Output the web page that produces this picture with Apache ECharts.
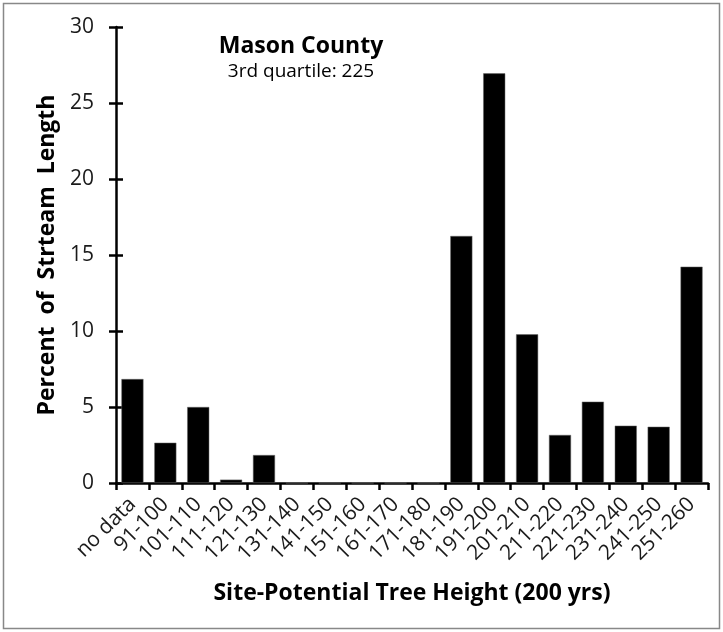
<!DOCTYPE html>
<html><head><meta charset="utf-8">
<script src="https://cdn.jsdelivr.net/npm/echarts@6/dist/echarts.min.js"></script>
<style>html,body{margin:0;padding:0;background:#fff}#c{width:723px;height:632px}</style>
</head><body><div id="c"></div>
<script>
const categories = ["no data","91-100","101-110","111-120","121-130","131-140","141-150","151-160","161-170","171-180","181-190","191-200","201-210","211-220","221-230","231-240","241-250","251-260"];
const values = [6.84,2.65,5.0,0.22,1.84,0,0,0,0,0,16.25,26.95,9.78,3.16,5.35,3.77,3.70,14.23];
const yTicks = [0,5,10,15,20,25,30];
const titleText = "Mason County";
const subtitleText = "3rd quartile: 225";
const xName = "Site-Potential Tree Height (200 yrs)";
const yName = "Percent  of  Strteam  Length";

const FONT = "'Open Sans', sans-serif";
const chart = echarts.init(document.getElementById('c'));
const grid = {left:116, top:27, right:15, bottom:149};
chart.setOption({
  animation:false,
  backgroundColor:'#fff',
  title:{
    text:titleText, subtext:subtitleText, left:296, top:30, textAlign:'center', itemGap:4,
    textStyle:{fontFamily:FONT, fontSize:23, fontWeight:'bold', color:'#000'},
    subtextStyle:{fontFamily:FONT, fontSize:19, color:'#000'}
  },
  graphic:[{type:'rect', shape:{x:3.5,y:3.5,width:716,height:625}, style:{fill:'none', stroke:'#888', lineWidth:1.5}, silent:true}],
  grid:grid,
  xAxis:{
    type:'category', data:categories,
    axisLine:{lineStyle:{color:'#000', width:2.5}},
    axisTick:{show:true, length:7, lineStyle:{color:'#000', width:2.5}, alignWithLabel:false},
    axisLabel:{rotate:45, interval:0, margin:18, fontFamily:FONT, fontSize:21, color:'#1a1a1a'},
    name:xName, nameLocation:'middle', nameGap:99,
    nameTextStyle:{fontFamily:FONT, fontSize:23, fontWeight:'bold', color:'#000'}
  },
  yAxis:[{
    type:'value', min:0, max:30, interval:5,
    axisLine:{show:true, lineStyle:{color:'#000', width:2.5}},
    axisTick:{show:true, length:7, lineStyle:{color:'#000', width:2.5}},
    splitLine:{show:false},
    axisLabel:{margin:22, fontFamily:FONT, fontSize:21, color:'#1a1a1a',
      formatter:v=>yTicks.includes(v)?String(v):''},
    name:yName, nameLocation:'middle', nameGap:51,
    nameTextStyle:{fontFamily:FONT, fontSize:23, fontWeight:'bold', color:'#000'}
  },{
    type:'value', min:0, max:30, interval:5, position:'left',
    axisLine:{show:false},
    axisTick:{show:true, inside:true, length:7, lineStyle:{color:'#000', width:2.5}},
    axisLabel:{show:false}, splitLine:{show:false}
  }],
  series:[{
    type:'bar', data:values, barCategoryGap:'33%',
    itemStyle:{color:'#000', borderColor:'#666', borderWidth:0.5}
  }]
});
</script></body></html>
